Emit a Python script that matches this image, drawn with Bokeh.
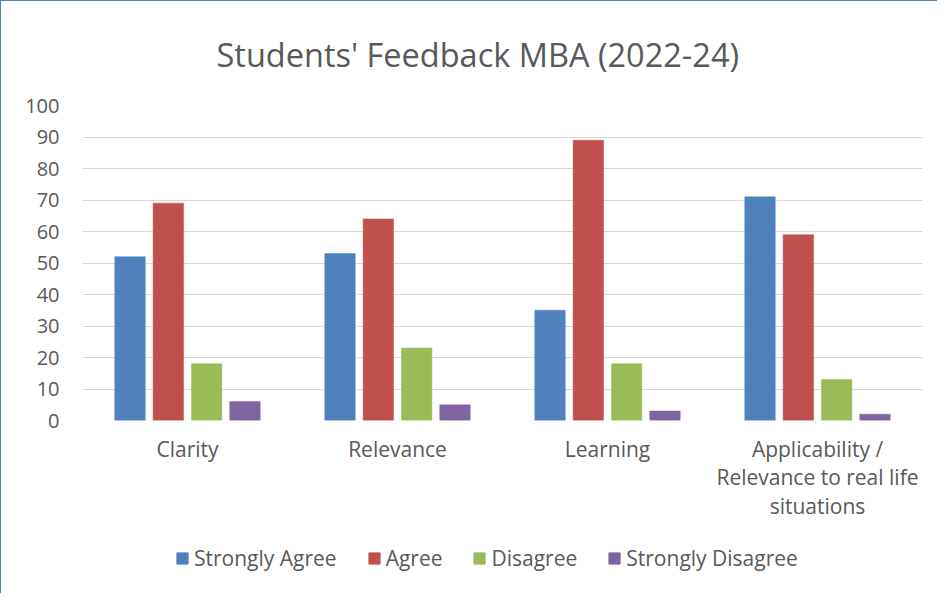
from bokeh.plotting import figure
from bokeh.models import (ColumnDataSource, FactorRange, Range1d, FixedTicker, Legend, LegendItem,
                          Plot, VBar, CategoricalScale, LinearScale)
from bokeh.layouts import column
from bokeh.transform import dodge
from bokeh.embed import file_html
from bokeh.resources import INLINE

categories = ["Clarity", "Relevance", "Learning", "Applicability /\nRelevance to real life\nsituations"]
strongly_agree = [52, 53, 35, 71]
agree = [69, 64, 89, 59]
disagree = [18, 23, 18, 13]
strongly_disagree = [6, 5, 3, 2]
series_names = ["Strongly Agree", "Agree", "Disagree", "Strongly Disagree"]
y_ticks = [0, 10, 20, 30, 40, 50, 60, 70, 80, 90, 100]

colors = ["#4F81BD", "#C0504D", "#9BBB59", "#8064A2"]
FONT = "Open Sans"
TEXT = "#595959"

source = ColumnDataSource(dict(cat=categories, sa=strongly_agree, a=agree,
                               d=disagree, sd=strongly_disagree))

p = figure(width=936, height=525, x_range=FactorRange(*categories), y_range=Range1d(0, 100),
           output_backend="svg", toolbar_location=None,
           min_border_left=81, min_border_right=15, min_border_top=102, min_border_bottom=106)

p.title.text = "Students' Feedback MBA (2022-24)"
p.title.text_font = FONT
p.title.text_font_size = "32.5px"
p.title.text_font_style = "normal"
p.title.text_color = TEXT
p.title.align = "left"
p.title.offset = 134
p.title.standoff = 57

p.outline_line_color = None
p.xgrid.grid_line_color = None
p.ygrid.grid_line_color = "#D9D9D9"
p.ygrid.grid_line_width = 1

step = 0.1825
bw = 0.145
offsets = [-1.5 * step, -0.5 * step, 0.5 * step, 1.5 * step]
cols = ["sa", "a", "d", "sd"]
for col, off, c in zip(cols, offsets, colors):
    p.vbar(x=dodge("cat", off, range=p.x_range), top=col, width=bw, source=source,
           fill_color=c, line_color=c, line_width=0.5)

p.yaxis.ticker = FixedTicker(ticks=y_ticks)
for ax in (p.xaxis, p.yaxis):
    ax.axis_line_color = None
    ax.major_tick_line_color = None
    ax.minor_tick_line_color = None
    ax.major_tick_out = 0
    ax.major_tick_in = 0
    ax.major_label_text_font = FONT
    ax.major_label_text_color = TEXT
p.yaxis.major_label_text_font_size = "20px"
p.yaxis.major_label_standoff = 23
p.xaxis.major_label_text_font_size = "21px"
p.xaxis.major_label_standoff = 14
p.xaxis.major_label_text_line_height = 1.03

# legend strip below the chart (same data, bars kept out of view; only the legend shows)
lg_range = FactorRange(*categories)
lg = Plot(width=936, height=67, x_range=lg_range, y_range=Range1d(200, 300),
          x_scale=CategoricalScale(), y_scale=LinearScale(),
          output_backend="svg", toolbar_location=None, title=None,
          min_border=0, outline_line_color=None)
legend_renderers = []
for col, off, c in zip(cols, offsets, colors):
    r = lg.add_glyph(source, VBar(x=dodge("cat", off, range=lg_range), top=col, width=bw,
                                  fill_color=c, line_color=c))
    legend_renderers.append(r)
legend = Legend(items=[LegendItem(label=n, renderers=[r]) for n, r in zip(series_names, legend_renderers)],
                orientation="horizontal", location=(93, 21),
                label_text_font=FONT, label_text_font_size="21px", label_text_color=TEXT,
                glyph_width=14, glyph_height=14, label_standoff=5, spacing=30,
                border_line_color=None, background_fill_alpha=0, padding=4, margin=0)
lg.add_layout(legend, "center")

layout = column(p, lg, spacing=0)
layout.styles = {"border-left": "1.5px solid #4F81BD", "border-top": "1.5px solid #4F81BD"}

open("out.html", "w").write(file_html(layout, INLINE))
